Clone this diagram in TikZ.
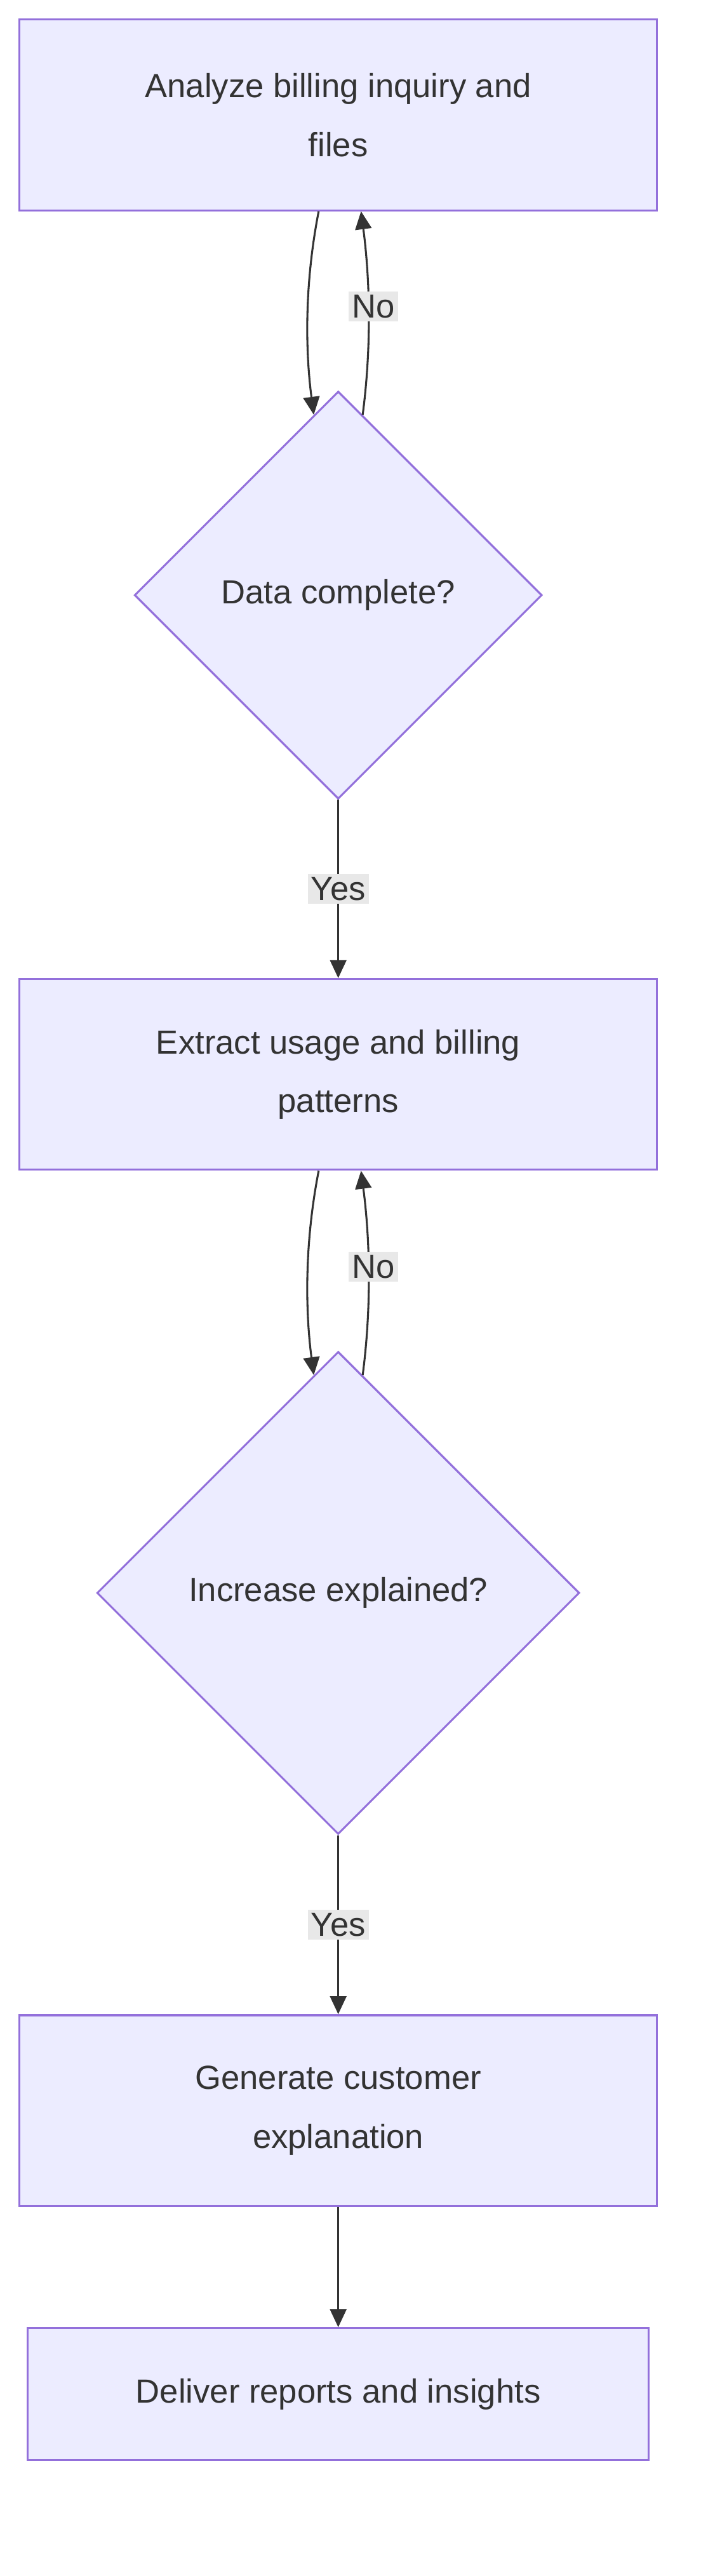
\documentclass[tikz,border=0pt]{standalone}
\usepackage{fontspec}
\setmainfont{Liberation Sans}
\usetikzlibrary{shapes.geometric,arrows.meta}
\definecolor{boxfill}{HTML}{ECECFF}
\definecolor{boxline}{HTML}{9370DB}
\definecolor{ink}{HTML}{333333}
\definecolor{lblbg}{HTML}{E8E8E8}

\tikzset{
  stepbox/.style={draw=boxline,fill=boxfill,line width=1.2pt,minimum width=391pt,
    minimum height=117pt,align=center,text=ink,font=\fontsize{20.5}{36}\selectfont},
  choice/.style={diamond,draw=boxline,fill=boxfill,line width=1.2pt,minimum size=250pt,
    inner sep=0pt,text=ink,font=\fontsize{20.5}{36}\selectfont},
  flow/.style={draw=ink,line width=1.2pt,-{Triangle[length=11pt,width=10pt]}},
  lbl/.style={fill=lblbg,text=ink,inner sep=2pt,font=\fontsize{20.5}{24}\selectfont}
}

\begin{document}
\begin{tikzpicture}[x=1pt,y=-1pt]
\useasboundingbox (0,0) rectangle (430,1580);

%boxes and choices
\node[stepbox] (ana) at (207.5,70.5) {Analyze billing inquiry and\\files};
\node[choice] (dat) at (207.5,365) {Data complete?};
\node[stepbox] (ext) at (207.5,659) {Extract usage and billing\\patterns};
\node[choice,minimum size=296pt] (inc) at (207.5,977) {Increase explained?};
\node[stepbox] (gen) at (207.5,1294.5) {Generate customer\\explanation};
\node[stepbox,minimum width=381pt,minimum height=81pt] (del) at (207.5,1468.5) {Deliver reports and insights};

%loop back on first check
\draw[flow] ([xshift=-12pt]ana.south) .. controls +(-9,46) and +(-5,-38) .. ([xshift=-15pt,yshift=-15pt]dat.north);
\draw[flow] ([xshift=15pt,yshift=-15pt]dat.north) .. controls +(5,-38) and +(6,46) .. ([xshift=14pt]ana.south);
\node[lbl] (no1) at (229,188) {No};
\draw[flow] (dat.south) -- node[lbl] (yes1) {Yes} (ext.north);

%loop back on second check
\draw[flow] ([xshift=-12pt]ext.south) .. controls +(-9,46) and +(-5,-38) .. ([xshift=-15pt,yshift=-15pt]inc.north);
\draw[flow] ([xshift=15pt,yshift=-15pt]inc.north) .. controls +(5,-38) and +(6,46) .. ([xshift=14pt]ext.south);
\node[lbl] (no2) at (229,777) {No};
\draw[flow] (inc.south) -- node[lbl] (yes2) {Yes} (gen.north);

\draw[flow] (gen.south) -- (del.north);
\end{tikzpicture}
\end{document}
